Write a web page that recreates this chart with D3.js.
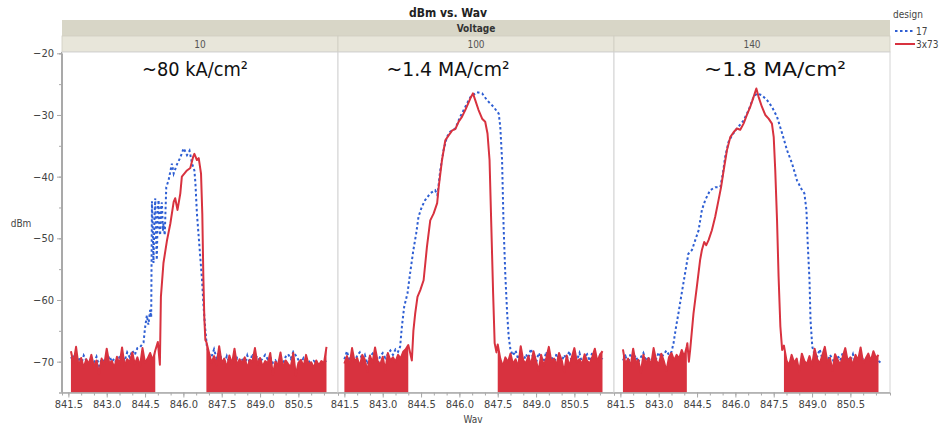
<!DOCTYPE html>
<html>
<head>
<meta charset="utf-8">
<script src="https://cdn.jsdelivr.net/npm/d3@7"></script>
<style>
  body { margin: 0; background: #fff; }
  svg text { font-family: "Liberation Sans Narrow", "DejaVu Sans Condensed", "Liberation Sans", sans-serif; }
</style>
</head>
<body>
<svg id="chart"></svg>
<script>
// ---- data ----
const voltages = ["10", "100", "140"];
const annotations = ["~80 kA/cm²", "~1.4 MA/cm²", "~1.8 MA/cm²"];
const designs = ["17", "3x73"];
const xTicks = [841.5, 843.0, 844.5, 846.0, 847.5, 849.0, 850.5];
const yTicks = [-20, -30, -40, -50, -60, -70];
const noiseStep = 0.1; // nm between noise-floor readings

// Voltage 10
const red10LeftStart = 841.6;
const red10Left = [-68.3,-70.2,-67.6,-70.8,-69.4,-71.0,-69.6,-70.4,-68.9,-70.9,-69.8,-72.0,-69.5,-70.6,-67.9,-70.3,-69.9,-71.0,-69.2,-70.5,-67.7,-70.7,-69.6,-70.1,-68.5,-70.4,-69.3,-70.8,-67.8,-70.2,-69.5,-68.6,-69.8,-68.2];
const red10Peak = [[845.0,-66.8],[845.08,-70.5],[845.12,-59.5],[845.22,-54],[845.36,-50.3],[845.49,-47.6],[845.62,-44.1],[845.68,-43.5],[845.77,-45.4],[845.88,-42.7],[845.94,-40],[846.14,-39],[846.27,-38.6],[846.38,-36.8],[846.43,-36.3],[846.53,-37.3],[846.6,-37],[846.69,-39.5],[846.74,-46],[846.78,-56],[846.82,-63],[846.86,-66.5]];
const red10RightStart = 846.9;
const red10Right = [-66.8,-68.5,-70.2,-69.1,-70.6,-67.5,-70.3,-69.5,-71.0,-69.0,-70.4,-67.9,-70.7,-69.6,-70.2,-69.3,-71.1,-69.7,-70.0,-67.8,-70.5,-69.4,-70.8,-69.9,-70.3,-68.6,-72.1,-70.0,-70.6,-68.5,-71.0,-69.8,-70.4,-70.9,-68.6,-72.2,-70.2,-69.7,-70.8,-68.9,-70.5,-70.1,-71.0,-69.8,-70.6,-69.9,-70.3,-67.6];
const blue10LeftStart = 841.6;
const blue10Left = [-69.5,-68.9,-70.2,-69.3,-70.5,-69.0,-69.8,-70.6,-69.4,-70.1,-69.2,-70.7,-69.6,-69.9,-70.3,-69.1,-70.0,-69.5,-70.4,-69.2,-68.8,-69.9,-68.5,-69.3,-68.2,-68.9,-67.8];
const blue10Peak = [[844.31,-67.6],[844.44,-66.9],[844.5,-64.5],[844.57,-62.5],[844.63,-64],[844.7,-61.6],[844.74,-62.8],[844.77,-44],[844.8,-48.7],[844.83,-54],[844.87,-46.5],[844.9,-43.5],[844.93,-50],[844.96,-53.5],[845.0,-45],[845.03,-43.8],[845.06,-48],[845.09,-49.5],[845.13,-44.5],[845.16,-44.2],[845.2,-48.8],[845.22,-47.6],[845.27,-49.5],[845.33,-41.7],[845.42,-40.6],[845.55,-37.9],[845.62,-39.5],[845.75,-38],[845.88,-36.9],[846.01,-35.4],[846.14,-36.5],[846.24,-35.8],[846.34,-37.9],[846.43,-39],[846.47,-41],[846.53,-46],[846.63,-51.4],[846.73,-56.8],[846.79,-61.1],[846.86,-64.9],[846.92,-67.6],[847.0,-68.8]];
const blue10RightStart = 847.1;
const blue10Right = [-69.2,-68.0,-69.5,-68.3,-69.8,-70.4,-69.1,-70.2,-69.6,-70.9,-69.4,-70.1,-69.7,-70.5,-69.0,-70.3,-68.7,-69.4,-69.1,-70.0,-69.5,-68.9,-69.6,-69.3,-70.2,-69.8,-70.5,-69.9,-70.4,-69.2,-68.8,-69.5,-68.4,-69.0,-69.7,-70.3,-69.4,-70.0,-69.8,-70.6,-69.9,-70.2,-70.8,-70.5,-70.1,-69.8];

// Voltage 100
const red100LeftStart = 841.5;
const red100Left = [-70.3,-69.1,-70.6,-67.8,-70.0,-69.4,-70.8,-68.9,-69.7,-71.6,-69.0,-70.2,-67.7,-69.9,-70.5,-69.2,-71.4,-68.6,-69.8,-69.3,-70.0,-68.9,-69.5,-68.4,-68.0,-67.3];
const red100Peak = [[844.07,-68.5],[844.14,-69.8],[844.2,-65],[844.27,-62.2],[844.36,-59.5],[844.47,-58.4],[844.6,-56.8],[844.73,-51.4],[844.86,-47.1],[844.99,-46],[845.13,-44.3],[845.19,-41.7],[845.32,-37.3],[845.45,-34.1],[845.58,-33.3],[845.72,-32.5],[845.84,-32.3],[845.97,-31.1],[846.1,-30.3],[846.23,-29.2],[846.43,-27.3],[846.53,-26.5],[846.62,-27.6],[846.75,-29.2],[846.89,-30.6],[847.01,-31.1],[847.1,-33],[847.18,-37.3],[847.25,-48.1],[847.32,-58.9],[847.38,-67],[847.45,-68.5]];
const red100RightStart = 847.5;
const red100Right = [-67.2,-69.5,-70.8,-69.3,-70.1,-68.7,-70.4,-69.6,-70.9,-67.5,-69.8,-70.3,-69.1,-70.6,-68.3,-69.9,-71.5,-68.9,-70.7,-69.4,-67.6,-70.0,-69.5,-70.6,-68.6,-69.7,-71.7,-69.0,-70.8,-69.3,-67.8,-70.1,-69.6,-70.5,-68.8,-69.9,-70.3,-69.2,-67.9,-70.0,-68.9,-68.3];
const blue100LeftStart = 841.5;
const blue100Left = [-69.6,-68.3,-69.9,-68.8,-70.2,-69.0,-68.5,-69.7,-68.9,-70.4,-69.2,-68.7,-69.8,-70.5,-69.1,-68.6,-69.4,-68.8,-68.2,-68.9,-68.0,-68.4];
const blue100Peak = [[843.68,-67.6],[843.75,-64.3],[843.84,-61.1],[843.97,-58.9],[844.07,-55.7],[844.2,-51.9],[844.31,-49.2],[844.4,-46.5],[844.53,-44.9],[844.66,-43.8],[844.86,-42.7],[845.05,-42.2],[845.14,-43],[845.25,-39],[845.38,-35.7],[845.51,-33.6],[845.64,-32.7],[845.84,-32.2],[846.03,-30.3],[846.23,-28.7],[846.43,-27.1],[846.69,-26.3],[846.89,-26.5],[847.08,-27.6],[847.34,-28.7],[847.54,-29.8],[847.6,-31.9],[847.67,-37.3],[847.73,-48.1],[847.8,-56.2],[847.87,-62.2],[847.93,-66],[848.0,-68.1]];
const blue100RightStart = 848.1;
const blue100Right = [-69.0,-68.2,-69.6,-68.5,-70.1,-68.8,-69.4,-67.9,-69.7,-70.2,-68.6,-69.3,-70.0,-68.4,-69.8,-69.1,-70.4,-68.7,-69.5,-70.0,-68.9,-69.6,-68.3,-70.2,-69.0,-69.7,-68.6,-70.3,-69.2,-68.8,-69.9,-68.5,-69.4,-70.1,-69.0,-69.6];

// Voltage 140
const red140LeftStart = 841.6;
const red140Left = [-68.0,-70.4,-69.5,-70.8,-67.9,-70.2,-69.7,-71.8,-68.9,-70.3,-69.4,-70.6,-67.8,-69.8,-70.5,-68.7,-69.9,-71.5,-69.3,-68.6,-69.8,-68.9,-69.5,-68.1,-69.2,-67.5];
const red140Peak = [[844.12,-67],[844.18,-70],[844.23,-68.1],[844.36,-62.2],[844.49,-57.9],[844.62,-53.5],[844.69,-51.9],[844.78,-50.6],[844.86,-51.1],[844.95,-50.3],[845.08,-48.7],[845.21,-46.5],[845.34,-43.8],[845.44,-41.7],[845.54,-39],[845.67,-35.7],[845.8,-33.6],[845.93,-32.8],[846.06,-32.2],[846.19,-32.4],[846.32,-31.4],[846.45,-30],[846.58,-28.7],[846.71,-27.1],[846.82,-25.7],[846.91,-27.1],[847.04,-28.7],[847.17,-30],[847.3,-30.6],[847.43,-31.4],[847.5,-33.6],[847.56,-39],[847.63,-47.1],[847.69,-56.2],[847.76,-64.3],[847.83,-68.1]];
const red140RightStart = 847.9;
const red140Right = [-67.4,-69.8,-70.6,-68.9,-70.2,-69.5,-71.6,-68.7,-69.9,-70.4,-69.1,-70.7,-67.9,-69.6,-70.3,-69.0,-67.6,-70.1,-69.4,-71.5,-68.8,-69.7,-70.5,-69.2,-67.8,-70.0,-69.3,-70.6,-68.9,-69.8,-67.7,-70.2,-69.5,-68.7,-69.9,-68.3,-69.4,-68.9];
const blue140LeftStart = 841.6;
const blue140Left = [-69.8,-69.1,-70.3,-68.7,-69.5,-69.0,-70.1,-69.3,-68.6,-69.9,-69.2,-70.4,-68.9,-69.6,-68.5,-69.3,-68.8,-68.2,-68.9,-68.4];
const blue140Peak = [[843.58,-67],[843.68,-64.3],[843.77,-62.2],[843.9,-58.9],[844.03,-55.7],[844.16,-52.5],[844.3,-51.9],[844.43,-50.3],[844.56,-48.7],[844.69,-45.4],[844.82,-43.8],[845.01,-42.2],[845.21,-41.7],[845.41,-41.7],[845.51,-39.5],[845.6,-36.8],[845.73,-34.4],[845.87,-33.3],[846.06,-32.2],[846.32,-30.9],[846.52,-29.2],[846.71,-27.1],[846.85,-26.5],[847.04,-26.8],[847.24,-27.6],[847.43,-28.7],[847.63,-30.3],[847.83,-33],[848.02,-35.7],[848.22,-37.9],[848.41,-40.6],[848.61,-42.2],[848.7,-42.7],[848.78,-45.4],[848.83,-50.8],[848.9,-56.8],[848.94,-63.3],[849.01,-67.6],[849.07,-68.5]];
const blue140RightStart = 849.2;
const blue140Right = [-69.2,-68.0,-69.5,-68.4,-70.1,-68.9,-69.6,-70.4,-69.0,-69.8,-68.6,-70.2,-69.3,-69.9,-68.8,-70.5,-69.4,-69.0,-69.7,-70.3,-69.1,-69.8,-70.0,-69.5,-69.9,-70.2];

// ---- build series ----
const noise = (start, vals) => vals.map((v, i) => [start + i * noiseStep, v]);
function series(ls, l, peak, rs, r) {
  const leftPart = noise(ls, l), rightPart = noise(rs, r);
  return { left: leftPart, right: rightPart, all: leftPart.concat(peak, rightPart) };
}
const panels = [
  { blue: series(blue10LeftStart, blue10Left, blue10Peak, blue10RightStart, blue10Right),
    red: series(red10LeftStart, red10Left, red10Peak, red10RightStart, red10Right) },
  { blue: series(blue100LeftStart, blue100Left, blue100Peak, blue100RightStart, blue100Right),
    red: series(red100LeftStart, red100Left, red100Peak, red100RightStart, red100Right) },
  { blue: series(blue140LeftStart, blue140Left, blue140Peak, blue140RightStart, blue140Right),
    red: series(red140LeftStart, red140Left, red140Peak, red140RightStart, red140Right) }
];

// ---- layout ----
const width = 940, height = 427;
const plotLeft = 62, panelW = 276, plotTop = 52, plotBottom = 392.5;
const redColor = "#d8323f", blueColor = "#2f5fd3", axisColor = "#a9a9a9";

const svg = d3.select("#chart").attr("width", width).attr("height", height);

const x = d3.scaleLinear().domain([841.25, 852.05]).range([0, panelW]);
const y = d3.scaleLinear().domain([-75, -20]).range([plotBottom, 53.3]);

// title + header strips
svg.append("text").attr("x", 448).attr("y", 17).attr("text-anchor", "middle")
  .attr("font-size", 12).attr("font-weight", "bold").attr("fill", "#222").text("dBm vs. Wav");
svg.append("rect").attr("x", plotLeft).attr("y", 20).attr("width", panelW * 3).attr("height", 16).attr("fill", "#d8d6c7");
svg.append("text").attr("x", plotLeft + panelW * 1.5).attr("y", 32).attr("text-anchor", "middle")
  .attr("font-size", 10).attr("font-weight", "bold").attr("fill", "#333").text("Voltage");

const line = d3.line().x(d => x(d[0])).y(d => y(d[1]));
const floorArea = d3.area().x(d => x(d[0])).y0(plotBottom + 2).y1(d => y(d[1]));

svg.append("defs").append("clipPath").attr("id", "clip")
  .append("rect").attr("x", 0).attr("y", plotTop).attr("width", panelW).attr("height", plotBottom - plotTop);

panels.forEach((p, i) => {
  const g = svg.append("g").attr("transform", `translate(${plotLeft + i * panelW},0)`);

  g.append("rect").attr("x", 0).attr("y", 36).attr("width", panelW).attr("height", 16)
    .attr("fill", "#e8e6da").attr("stroke", "#cfcdc0").attr("stroke-width", 0.8);
  g.append("text").attr("x", panelW / 2).attr("y", 47.5).attr("text-anchor", "middle")
    .attr("font-size", 10).attr("fill", "#555").text(voltages[i]);

  g.append("rect").attr("x", 0).attr("y", plotTop).attr("width", panelW).attr("height", plotBottom - plotTop)
    .attr("fill", "#fff").attr("stroke", "#d4d4d4");

  const plot = g.append("g").attr("clip-path", "url(#clip)");
  plot.append("path").datum(p.blue.all).attr("d", line).attr("fill", "none")
    .attr("stroke", blueColor).attr("stroke-width", 2).attr("stroke-dasharray", "2.5,2.5");
  [p.red.left, p.red.right].forEach(seg => {
    plot.append("path").datum(seg).attr("d", floorArea).attr("fill", redColor);
  });
  plot.append("path").datum(p.red.all).attr("d", line).attr("fill", "none")
    .attr("stroke", redColor).attr("stroke-width", 2).attr("stroke-linejoin", "round");

  // annotation
  g.append("text").attr("x", [133, 110, 161][i]).attr("y", 76).attr("text-anchor", "middle")
    .attr("font-family", "Lato, 'Open Sans', sans-serif").attr("font-size", 19.5).attr("fill", "#111")
    .attr("textLength", [106, 123, 142][i]).attr("lengthAdjust", "spacingAndGlyphs")
    .text(annotations[i]);

  // x axis
  const xa = g.append("g").attr("transform", `translate(0,${plotBottom})`);
  xa.call(d3.axisBottom(x).tickValues(d3.range(841.5, 851.6, 0.5)).tickSize(3).tickFormat(""))
    .call(a => a.selectAll("line,path").attr("stroke", axisColor));
  const xb = g.append("g").attr("transform", `translate(0,${plotBottom})`);
  xb.call(d3.axisBottom(x).tickValues(xTicks).tickSize(5).tickPadding(3).tickFormat(d3.format(".1f")))
    .call(a => a.selectAll("line,path").attr("stroke", axisColor))
    .call(a => a.selectAll("text").attr("font-size", 11).attr("fill", "#444"))
    .call(a => a.select(".domain").attr("d", `M0,0.5H${panelW}`));
});

// y axis
const ya = svg.append("g").attr("transform", `translate(${plotLeft},0)`);
ya.call(d3.axisLeft(y).tickValues(d3.range(-75, -19, 5)).tickSize(3).tickFormat(""))
  .call(a => a.selectAll("line,path").attr("stroke", axisColor));
const yb = svg.append("g").attr("transform", `translate(${plotLeft},0)`);
yb.call(d3.axisLeft(y).tickValues(yTicks).tickSize(5).tickPadding(3))
  .call(a => a.selectAll("line,path").attr("stroke", axisColor))
  .call(a => a.selectAll("text").attr("font-size", 11).attr("fill", "#444"))
  .call(a => a.select(".domain").attr("d", `M-0.5,${plotTop}V${plotBottom}`));

svg.append("text").attr("x", 21).attr("y", 227).attr("text-anchor", "middle")
  .attr("font-size", 10).attr("fill", "#444").text("dBm");
svg.append("text").attr("x", 473).attr("y", 423).attr("text-anchor", "middle")
  .attr("font-size", 10).attr("fill", "#444").text("Wav");

// legend
const lg = svg.append("g").attr("transform", "translate(893,0)");
lg.append("text").attr("x", 0).attr("y", 18).attr("font-size", 10).attr("fill", "#444").text("design");
designs.forEach((d, i) => {
  const yy = 31 + i * 13;
  lg.append("line").attr("x1", 2).attr("x2", 22).attr("y1", yy).attr("y2", yy)
    .attr("stroke", i === 0 ? blueColor : redColor).attr("stroke-width", 2)
    .attr("stroke-dasharray", i === 0 ? "2.5,2.5" : null);
  lg.append("text").attr("x", 23).attr("y", yy + 4).attr("font-size", 10).attr("fill", "#444").text(d);
});
</script>
</body>
</html>
